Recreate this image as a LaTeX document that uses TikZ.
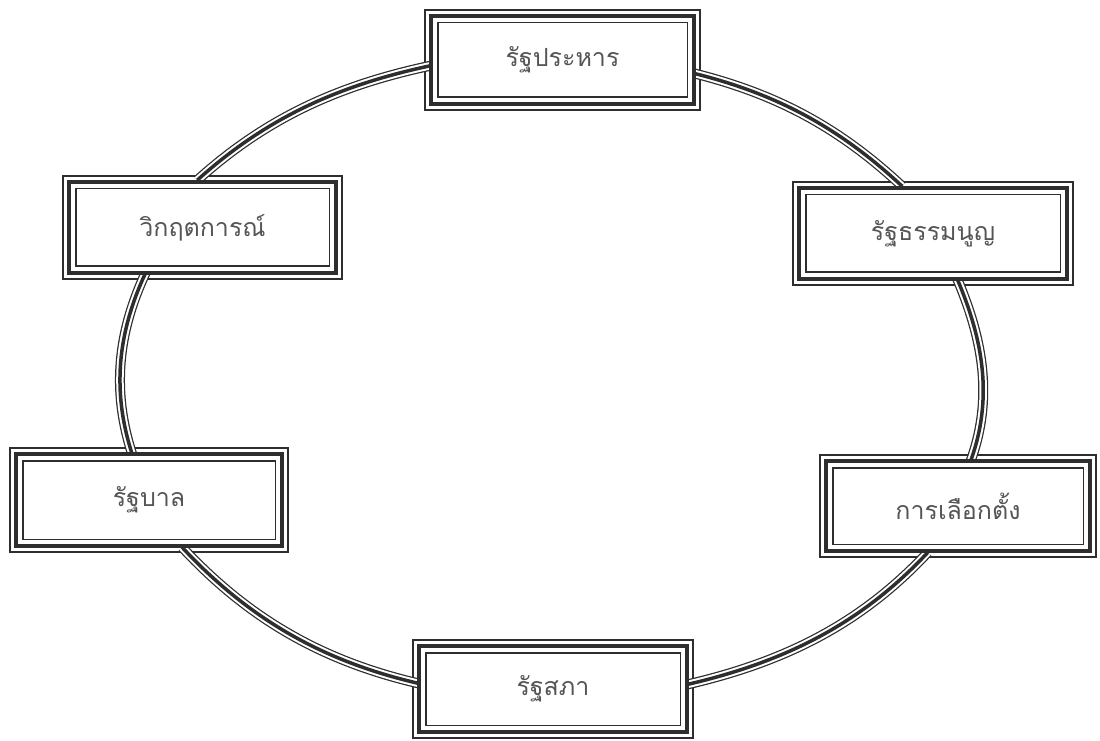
\documentclass[tikz,border=0pt]{standalone}
\usepackage{fontspec}
\newfontfamily\thaifont[Script=Thai]{Loma}
\definecolor{ink}{HTML}{2E2E2E}
\definecolor{txt}{HTML}{555555}
\begin{document}
\begin{tikzpicture}[x=1pt,y=1pt,
  box/.style={draw=ink, line width=1.1pt, fill=white, rectangle, inner sep=0pt,
    font=\thaifont\fontsize{25}{30}\selectfont, text=txt},
  link/.style={draw=ink, line width=10pt, looseness=0.9,
    shorten <=-7pt, shorten >=-7pt,
    postaction={draw=white, line width=7.5pt},
    postaction={draw=ink, line width=3.5pt}},
  midframe/.style={draw=ink, line width=4.5pt},
  innerframe/.style={draw=ink, line width=1.1pt}]
\useasboundingbox (0,0) rectangle (1100,740);
\fill[white] (0,0) rectangle (1100,740);
% boxes (outer thin frame)
\node[box, minimum width=275pt, minimum height=100pt] (coup)   at (562.5,680) {รัฐประหาร};
\node[box, minimum width=279pt, minimum height=103pt] (crisis) at (202.5,512.5) {วิกฤตการณ์};
\node[box, minimum width=280pt, minimum height=103pt] (const)  at (933,506.5) {รัฐธรรมนูญ};
\node[box, minimum width=276pt, minimum height=102pt] (elect)  at (958,234) {การเลือกตั้ง};
\node[box, minimum width=278pt, minimum height=104pt] (gov)    at (149,240) {รัฐบาล};
\node[box, minimum width=280pt, minimum height=98pt]  (parl)   at (553,51) {รัฐสภา};
% connectors
\draw[link] ([yshift=-7pt]coup.west) to[out=192,in=42] (crisis.north);
\draw[link] ([xshift=-60pt]crisis.south) to[out=245,in=108] ([xshift=-19pt]gov.north);
\draw[link] ([xshift=38pt]gov.south) to[out=313,in=167] ([yshift=7pt]parl.west);
\draw[link] ([yshift=6pt]parl.east) to[out=13,in=227] ([xshift=-35pt]elect.south);
\draw[link] ([xshift=15pt]elect.north) to[out=70,in=293] ([xshift=27pt]const.south);
\draw[link] ([xshift=-36pt]const.north) to[out=137,in=346] ([yshift=-15pt]coup.east);
% inner frames
\foreach \n in {coup,crisis,const,elect,gov,parl}{
  \draw[midframe] ([shift={(6.5,-6.5)}]\n.north west) rectangle ([shift={(-6.5,6.5)}]\n.south east);
  \draw[innerframe] ([shift={(13.5,-13.5)}]\n.north west) rectangle ([shift={(-13.5,13.5)}]\n.south east);
}
\end{tikzpicture}
\end{document}
